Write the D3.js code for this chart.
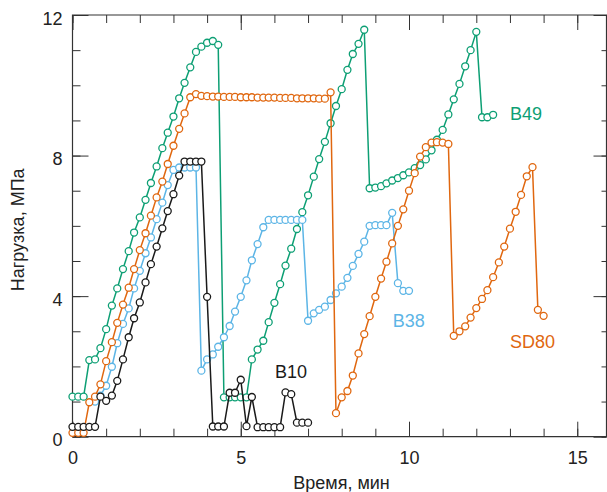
<!DOCTYPE html>
<html><head><meta charset="utf-8">
<script src="https://cdn.jsdelivr.net/npm/d3@7"></script>
<style>
body{margin:0;background:#fff;}
svg text{font-family:"Liberation Sans",Arial,sans-serif;}
</style></head>
<body><svg id="c" width="607" height="492"></svg>
<script>
// ---- data (time in min, load in MPa) ----
const b49T = [0,0.17,0.33,0.5,0.67,0.83,1.0,1.17,1.33,1.5,1.67,1.83,2.0,2.17,2.33,2.5,2.67,2.83,3.0,3.17,3.33,3.5,3.67,3.83,4.0,4.17,4.33,
  4.5,4.67,4.83,5.0,5.17,5.33,5.5,5.67,5.83,6.0,6.17,6.33,6.5,6.67,6.83,7.0,7.17,7.33,7.5,7.67,7.83,8.0,8.17,8.33,8.5,8.67,
  8.83,9.0,9.17,9.33,9.5,9.67,9.83,10.0,10.17,10.33,10.5,10.67,10.83,11.0,11.17,11.33,11.5,11.67,11.83,12.0,12.17,12.33,12.5];
const b49L = [1.14,1.14,1.14,2.18,2.2,2.52,3.06,3.73,4.22,4.77,5.28,5.81,6.24,6.74,7.22,7.69,8.21,8.65,9.11,9.63,10.07,10.51,10.95,11.1,11.21,11.26,11.15,
  1.12,1.12,1.12,1.12,1.12,2.2,2.48,2.73,3.26,3.81,4.34,4.87,5.35,5.91,6.39,6.87,7.4,7.9,8.39,8.92,9.41,9.89,10.44,10.89,11.18,11.58,
  7.07,7.09,7.13,7.21,7.29,7.36,7.44,7.52,7.64,7.73,7.89,8.15,8.45,8.73,9.17,9.6,10.04,10.54,11.0,11.52,9.09,9.09,9.16];

const sd80T = [0,0.17,0.33,0.5,0.67,0.83,1.0,1.17,1.33,1.5,1.67,1.83,2.0,2.17,2.33,2.5,2.67,2.83,3.0,3.17,3.33,3.5,3.67,3.83,
  4.0,4.17,4.33,4.5,4.67,4.83,5.0,5.17,5.33,5.5,5.67,5.83,6.0,6.17,6.33,6.5,6.67,6.83,7.0,7.17,7.33,7.5,7.67,
  7.83,8.0,8.17,8.33,8.5,8.67,8.83,9.0,9.17,9.33,9.5,9.67,9.83,10.0,10.17,10.33,10.5,10.67,10.83,11.0,11.17,
  11.33,11.5,11.67,11.83,12.0,12.17,12.33,12.5,12.67,12.83,13.0,13.17,13.33,13.5,13.67,13.83,14.0];
const sd80L = [0.11,0.11,0.11,0.98,1.14,1.49,2.15,2.69,3.24,3.76,4.24,4.77,5.31,5.79,6.29,6.81,7.26,7.76,8.28,8.76,9.2,9.66,9.75,9.7,
  9.69,9.68,9.68,9.67,9.67,9.67,9.66,9.66,9.66,9.65,9.65,9.65,9.65,9.64,9.64,9.64,9.63,9.63,9.63,9.63,9.62,9.62,9.8,
  0.67,1.12,1.3,1.74,2.37,2.92,3.43,3.98,4.5,4.98,5.5,6.0,6.47,7.0,7.5,7.97,8.24,8.37,8.38,8.37,8.33,
  2.87,3.0,3.14,3.39,3.66,3.92,4.17,4.54,4.96,5.41,5.92,6.4,6.88,7.41,7.67,3.61,3.44];

const b38T = [0.67,0.83,1.0,1.17,1.33,1.5,1.67,1.83,2.0,2.17,2.33,2.5,2.67,2.83,3.0,3.17,3.33,3.5,3.67,
  3.83,4.0,4.17,4.33,4.5,4.67,4.83,5.0,5.17,5.33,5.5,5.67,5.83,6.0,6.17,6.33,6.5,6.67,6.83,
  7.0,7.17,7.33,7.5,7.67,7.83,8.0,8.17,8.33,8.5,8.67,8.83,9.0,9.17,9.33,9.5,9.67,9.83,10.0];
const b38L = [1.0,1.17,1.45,1.99,2.66,3.21,3.65,4.22,4.72,5.22,5.67,6.19,6.66,7.16,7.59,7.66,7.66,7.66,7.66,
  1.88,2.2,2.34,2.56,2.83,3.15,3.56,3.98,4.45,5.02,5.48,5.96,6.17,6.17,6.17,6.17,6.17,6.17,6.17,
  3.3,3.51,3.61,3.7,3.89,4.08,4.27,4.52,4.86,5.2,5.55,6.0,6.02,6.02,6.02,6.37,4.37,4.15,4.15];

const b10T = [0,0.17,0.33,0.5,0.67,0.83,1.0,1.17,1.33,1.5,1.67,1.83,2.0,2.17,2.33,2.5,2.67,2.83,3.0,3.17,3.33,3.5,3.67,3.83,
  4.0,4.17,4.33,4.5,4.67,4.83,5.0,5.17,5.33,5.5,5.67,5.83,6.0,6.17,6.33,6.5,6.67,6.83,7.0];
const b10L = [0.28,0.28,0.28,0.28,0.28,1.14,1.02,1.17,1.59,2.2,2.83,3.37,3.82,4.39,4.91,5.41,5.93,6.42,6.9,7.43,7.83,7.83,7.83,7.83,
  3.98,0.29,0.29,0.29,1.25,1.25,1.62,0.3,1.13,0.27,0.27,0.27,0.27,0.27,1.26,1.21,0.4,0.4,0.4];

const seriesNames = ["B49","B38","SD80","B10"];
const xMajor = [0,5,10,15];
const yMajor = [0,4,8,12];
const xTitle = "Время, мин";
const yTitle = "Нагрузка, МПа";

// ---- drawing ----
const svg = d3.select("#c");
const x = d3.scaleLinear().domain([0,15.89]).range([72.5,607.2]);
const y = d3.scaleLinear().domain([0,12]).range([436.7,15]);
const X0 = x(0), X1 = 606.5, Y0 = y(0), Y1 = y(12);
const axisCol = "#333";
const colors = {B49:"#0d9f74", SD80:"#e0670f", B38:"#5cb5e6", B10:"#1a1a1a"};
const series = {
  B49: d3.zip(b49T,b49L), SD80: d3.zip(sd80T,sd80L),
  B38: d3.zip(b38T,b38L), B10: d3.zip(b10T,b10L)
};

function styleAxis(g){
  g.select(".domain").remove();
  g.selectAll(".tick line").attr("stroke",axisCol).attr("stroke-width",1);
  g.selectAll(".tick text").attr("fill","#222").style("font-size","18px")
   .style("font-family","'Liberation Sans',Arial,sans-serif");
}
const xMinor = d3.range(0,16,1), yMinor = d3.range(0,13,1);
// bottom
svg.append("g").attr("transform",`translate(0,${Y0})`)
  .call(d3.axisBottom(x).tickValues(xMinor).tickSize(-8).tickFormat("")).call(styleAxis);
svg.append("g").attr("transform",`translate(0,${Y0})`)
  .call(d3.axisBottom(x).tickValues(xMajor).tickSize(-15).tickPadding(15).tickFormat(d3.format("d"))).call(styleAxis);
// top
svg.append("g").attr("transform",`translate(0,${Y1})`)
  .call(d3.axisTop(x).tickValues(xMinor).tickSize(-8).tickFormat("")).call(styleAxis);
svg.append("g").attr("transform",`translate(0,${Y1})`)
  .call(d3.axisTop(x).tickValues(xMajor).tickSize(-15).tickFormat("")).call(styleAxis);
// left
svg.append("g").attr("transform",`translate(${X0},0)`)
  .call(d3.axisLeft(y).tickValues(yMinor).tickSize(-8).tickFormat("")).call(styleAxis);
const yl = svg.append("g").attr("transform",`translate(${X0},0)`)
  .call(d3.axisLeft(y).tickValues(yMajor).tickSize(-16).tickPadding(10).tickFormat(d3.format("d"))).call(styleAxis);
yl.selectAll(".tick text").attr("x",-10).attr("dy","0.5em");
// right
svg.append("g").attr("transform",`translate(${X1},0)`)
  .call(d3.axisRight(y).tickValues(yMinor).tickSize(-5).tickFormat("")).call(styleAxis);
svg.append("g").attr("transform",`translate(${X1},0)`)
  .call(d3.axisRight(y).tickValues(yMajor).tickSize(-13).tickFormat("")).call(styleAxis);

// frame
svg.append("path").attr("d",`M${X0},${Y0}V${Y1}H${X1}V${Y0}Z`)
  .attr("fill","none").attr("stroke",axisCol).attr("stroke-width",1.2);

// series
const line = d3.line().x(d=>x(d[0])).y(d=>y(d[1]));
["B49","B38","SD80","B10"].forEach(name=>{
  const g = svg.append("g");
  g.append("path").datum(series[name]).attr("d",line)
    .attr("fill","none").attr("stroke",colors[name]).attr("stroke-width",1.5);
  g.selectAll("circle").data(series[name]).join("circle")
    .attr("cx",d=>x(d[0])).attr("cy",d=>y(d[1])).attr("r",3.5)
    .attr("fill","#fff").attr("stroke",colors[name]).attr("stroke-width",1.3);
});

// series labels (left edge, baseline in data units)
const labelPos = {B49:[13.0,9.0], B38:[9.52,3.12], SD80:[13.0,2.52], B10:[6.02,1.67]};
seriesNames.forEach(n=>{
  svg.append("text").attr("x",x(labelPos[n][0])).attr("y",y(labelPos[n][1]))
    .attr("fill",colors[n]).style("font-size","18px").text(n);
});
// axis titles
svg.append("text").attr("x",(X0+X1)/2+2).attr("y",489).attr("text-anchor","middle")
  .attr("fill","#222").style("font-size","18px").text(xTitle);
svg.append("text").attr("transform",`translate(24,${(Y0+Y1)/2+4}) rotate(-90)`).attr("text-anchor","middle")
  .attr("fill","#222").style("font-size","18px").text(yTitle);
</script></body></html>
